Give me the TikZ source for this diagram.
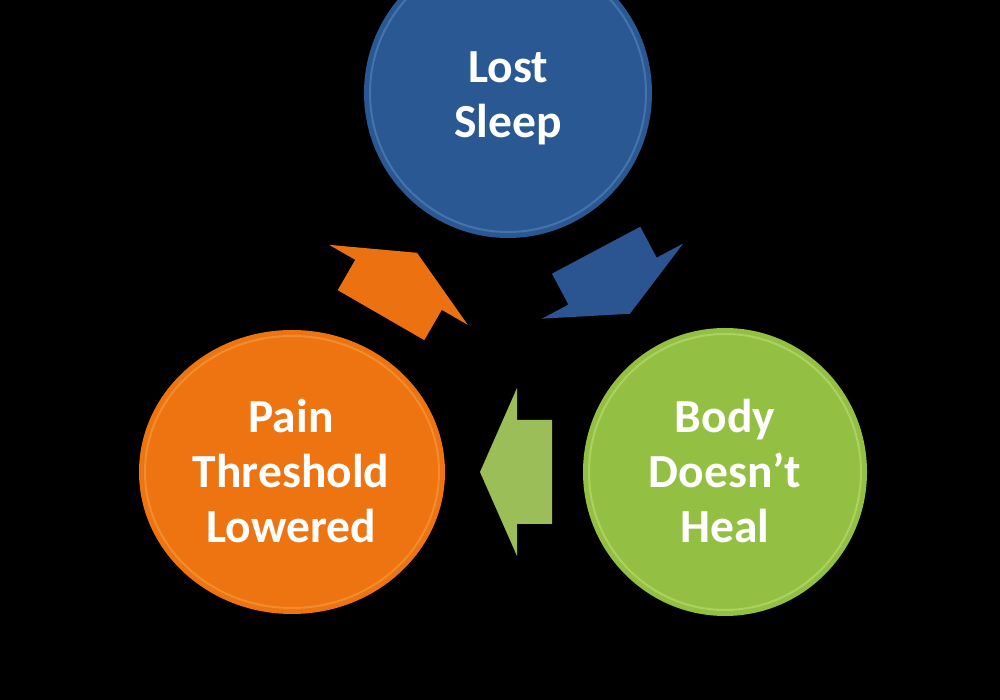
\documentclass[tikz,border=0pt]{standalone}
\usepackage{fontspec}
\setmainfont{Carlito}
\usetikzlibrary{calc}
\definecolor{cblue}{HTML}{2A5893}
\definecolor{cbluerim}{HTML}{5F8FC8}
\definecolor{corange}{HTML}{EE7412}
\definecolor{corangerim}{HTML}{F6A548}
\definecolor{cgreen}{HTML}{93C043}
\definecolor{cgreenrim}{HTML}{C4E47E}
\definecolor{agreen}{HTML}{9BBE59}
\definecolor{ablue}{HTML}{2A5590}
\definecolor{aorange}{HTML}{EC7211}
\tikzset{
  x=1pt,y=1pt,
  circlenode/.style={inner sep=0pt, text=white,
    font=\fontsize{47.5}{55}\selectfont\bfseries, align=center},
}
\begin{document}
\begin{tikzpicture}
\useasboundingbox (0,0) rectangle (1000,700);
\fill[black] (0,0) rectangle (1000,700);
\clip (0,0) rectangle (1000,700);
% circles
\coordinate (cs) at (508,607);
\coordinate (cp) at (292,228);
\coordinate (cb) at (725,228);
\fill[cblue] (cs) ellipse [x radius=144, y radius=145];
\draw[cbluerim, line width=2, opacity=0.5] (cs) ellipse [x radius=138, y radius=139];
\fill[corange] (cp) ellipse [x radius=153, y radius=142];
\draw[corangerim, line width=2, opacity=0.5] (cp) ellipse [x radius=147, y radius=136];
\fill[cgreen] (cb) ellipse [x radius=142, y radius=144];
\draw[cgreenrim, line width=2, opacity=0.5] (cb) ellipse [x radius=136, y radius=138];
% labels
\node[circlenode] (sleep) at (508,602) {Lost\\Sleep};
\node[circlenode] (pain) at (291,229) {Pain\\Threshold\\Lowered};
\node[circlenode] (heal) at (725,229) {Body\\Doesn’t\\Heal};
% block arrows
\fill[agreen, shift={(516,228)}, rotate=180]
  (-36,-52) -- (-1,-52) -- (-1,-84) -- (36,0) -- (-1,84) -- (-1,52) -- (-36,52) -- cycle;
\fill[aorange, shift={(399,416)}, rotate=60]
  (-36,-50) -- (-1,-50) -- (-1,-80) -- (36,0) -- (-1,80) -- (-1,50) -- (-36,50) -- cycle;
\fill[ablue, shift={(613,418)}, rotate=-62]
  (-36,-50) -- (-1,-50) -- (-1,-80) -- (36,0) -- (-1,80) -- (-1,50) -- (-36,50) -- cycle;
\end{tikzpicture}
\end{document}
